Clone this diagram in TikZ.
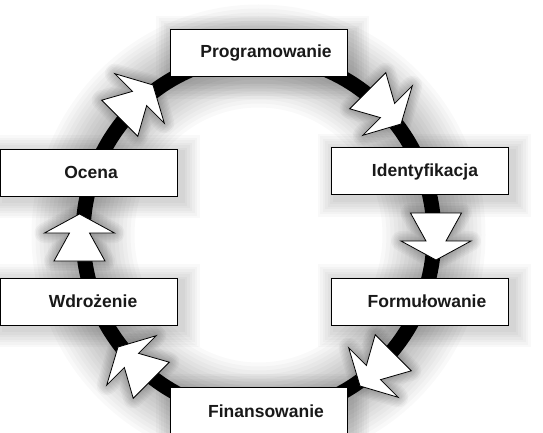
\documentclass[tikz,border=0pt]{standalone}
\usepackage{fontspec}
\setmainfont{Liberation Sans}[Ligatures=NoCommon]
\pgfdeclarelayer{shadowlayer}
\pgfdeclarelayer{ringlayer}
\pgfsetlayers{shadowlayer,ringlayer,main}
\tikzset{
  box/.style={draw=black, line width=1pt, fill=white, minimum width=177pt, minimum height=47pt, inner sep=0pt},
  lbl/.style={font=\bfseries\fontsize{17.5}{20}\selectfont, anchor=base, inner sep=0pt, text=black!90},
  ringstyle/.style={line width=15pt, draw=black},
  bigarrow/.pic={
    \foreach \w in {2,5,...,20}
      \draw[black, opacity=0.03, line width=\w pt, line join=round]
        (0,0) -- (-19,35) -- (-19,10) -- (-47,25.5) -- (-47,-25.5) -- (-19,-10) -- (-19,-35) -- cycle;
    \draw[fill=white, line width=0.8pt, line join=miter]
      (0,0) -- (-19,35) -- (-19,10) -- (-47,25.5) -- (-47,-25.5) -- (-19,-10) -- (-19,-35) -- cycle;
  }
}
\begin{document}
\begin{tikzpicture}[x=1pt,y=-1pt]
\useasboundingbox (0,0) rectangle (543,433);
\begin{pgfonlayer}{shadowlayer}
  \fill[white] (0,0) rectangle (543,433);
  \foreach \d in {4,8,...,44}
    \draw[black, opacity=0.022, line width={(15+2*\d)*1pt}] (258.5,235) ellipse [x radius=175.5pt, y radius=179pt];
\end{pgfonlayer}

% boxes
\node[box] (prog)  at (258.5,53.5) {};
\node[box] (ocena) at (89,172.5) {};
\node[box] (ident) at (420,171) {};
\node[box] (wdroz) at (89,301.5) {};
\node[box] (form)  at (420,301.5) {};
\node[box] (fin)   at (258.5,411) {};

% labels
\node[lbl] (tprog)  at ([xshift=7.5pt,yshift=-3.8pt]prog.center) {Programowanie};
\node[lbl] (tocena) at ([xshift=2pt,yshift=-5.5pt]ocena.center) {Ocena};
\node[lbl] (tident) at ([xshift=5pt,yshift=-5pt]ident.center) {Identyfikacja};
\node[lbl] (twdroz) at ([xshift=4pt,yshift=-5.5pt]wdroz.center) {Wdrożenie};
\node[lbl] (tform)  at ([xshift=7pt,yshift=-5.5pt]form.center) {Formułowanie};
\node[lbl] (tfin)   at ([xshift=7.5pt,yshift=-6.2pt]fin.center) {Finansowanie};

\begin{pgfonlayer}{shadowlayer}
  \foreach \nm in {prog,ocena,ident,wdroz,form,fin} {
    \foreach \k in {1,...,7}
      \fill[black, opacity=0.025]
        ([shift={(4-2.5*\k,4-2.5*\k)}]\nm.north west) rectangle ([shift={(4+2.5*\k,4+2.5*\k)}]\nm.south east);
  }
\end{pgfonlayer}

\begin{pgfonlayer}{ringlayer}
  \coordinate (c) at (258.5,235);
  \draw[ringstyle] (c) ellipse [x radius=175.5pt, y radius=179pt];
  \pic[rotate=45]   at (153,85)   {bigarrow};
  \pic[rotate=-45]  at (401,124)  {bigarrow};
  \pic[rotate=-90]  at (436,260)  {bigarrow};
  \pic[rotate=-135] at (360,386)  {bigarrow};
  \pic[rotate=135]  at (118,347)  {bigarrow};
  \pic[rotate=90]   at (79.5,214) {bigarrow};
\end{pgfonlayer}
\end{tikzpicture}
\end{document}
